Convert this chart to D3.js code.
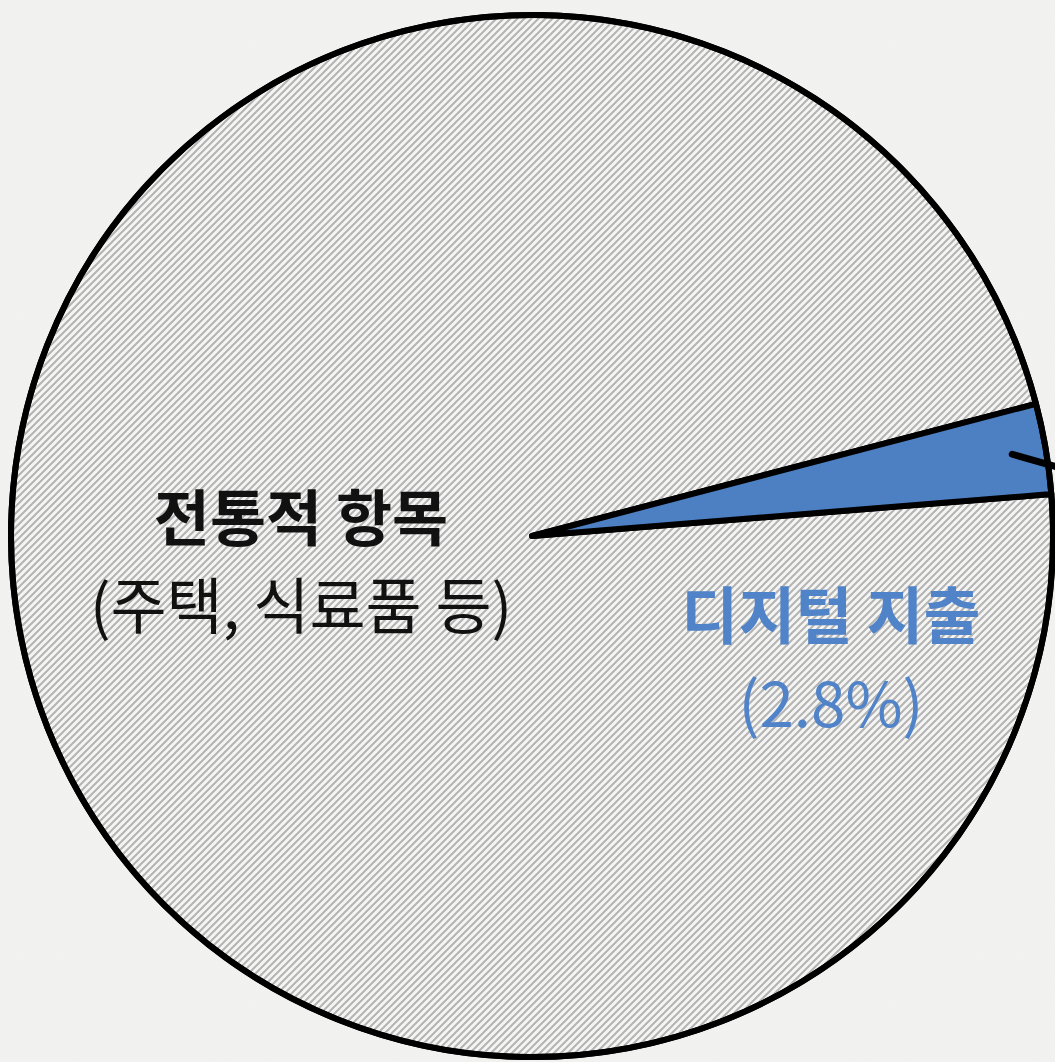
<!DOCTYPE html>
<html>
<head>
<meta charset="utf-8">
<script src="https://cdn.jsdelivr.net/npm/d3@7"></script>
<style>
  html, body { margin: 0; padding: 0; background: #f3f3f1; overflow: hidden; }
  svg { display: block; }
</style>
</head>
<body>
<div id="chart"></div>
<script>
// data
var categories = ["디지털 지출", "전통적 항목"];
var shares = [2.8, 97.2];
var titleLines = ["디지털 지출", "전통적 항목"];
var noteLines = ["(2.8%)", "(주택, 식료품 등)"];

var width = 1055, height = 1062;
var cx = 532, cy = 536, radius = 521;
var colors = { "디지털 지출": "#4d80c3", "전통적 항목": "url(#hatch)" };
var textColors = { "디지털 지출": "#5083c8", "전통적 항목": "#111" };
// label offsets from the pie centre / font sizes
var labelPos = { "디지털 지출": [299, 103], "전통적 항목": [-231, 5] };
var labelSize = { "디지털 지출": [62, 62], "전통적 항목": [61, 61] };

var svg = d3.select("#chart").append("svg")
  .attr("width", width).attr("height", height);

var defs = svg.append("defs");

// paper texture
var f = defs.append("filter").attr("id", "paper").attr("x", 0).attr("y", 0).attr("width", "100%").attr("height", "100%");
f.append("feTurbulence").attr("type", "fractalNoise").attr("baseFrequency", 0.8).attr("numOctaves", 2).attr("seed", 3);
f.append("feColorMatrix").attr("type", "matrix")
  .attr("values", "0 0 0 0 0.5  0 0 0 0 0.5  0 0 0 0 0.48  0 0 0 0.06 0");

var hatch = defs.append("pattern").attr("id", "hatch")
  .attr("patternUnits", "userSpaceOnUse").attr("width", 7).attr("height", 7);
hatch.append("rect").attr("width", 7).attr("height", 7).attr("fill", "#f5f5f4");
hatch.append("path").attr("d", "M-1,1 l2,-2 M0,7 l7,-7 M6,8 l2,-2")
  .attr("stroke", "#b4b4b4").attr("stroke-width", 2);

svg.append("rect").attr("width", width).attr("height", height).attr("fill", "#f3f3f1");
svg.append("rect").attr("width", width).attr("height", height).attr("filter", "url(#paper)");

var start = 75.3 * Math.PI / 180;
var pie = d3.pie().sort(null).value(function (d, i) { return shares[i]; })
  .startAngle(start).endAngle(start + 2 * Math.PI);
var arcs = pie(categories);

var arc = d3.arc().innerRadius(0).outerRadius(radius);

var g = svg.append("g").attr("transform", "translate(" + cx + "," + cy + ")");

g.selectAll("path.slice").data(arcs.slice().reverse()).enter().append("path")
  .attr("class", "slice")
  .attr("d", arc)
  .attr("fill", function (d) { return colors[d.data]; })
  .attr("stroke", "#000").attr("stroke-width", 6)
  .attr("stroke-linejoin", "round");

// outer ring
g.append("circle").attr("r", radius).attr("fill", "none")
  .attr("stroke", "#000").attr("stroke-width", 6);

// leader from the small slice
var small = arcs[0];
var mid = (small.startAngle + small.endAngle) / 2;
var p0 = [radius * 0.935 * Math.sin(mid), -radius * 0.935 * Math.cos(mid)];
g.append("path")
  .attr("d", d3.line()([p0, [p0[0] + 70, p0[1] + 20]]))
  .attr("stroke", "#000").attr("stroke-width", 7).attr("stroke-linecap", "round").attr("fill", "none");

// labels
var font = "'Noto Sans CJK KR', 'Noto Sans', sans-serif";
categories.forEach(function (c, i) {
  var pos = labelPos[c];
  var t = g.append("text")
    .attr("text-anchor", "middle")
    .attr("font-family", font)
    .attr("fill", textColors[c]);
  t.append("tspan").attr("x", pos[0]).attr("y", pos[1])
    .attr("font-size", labelSize[c][0]).attr("font-weight", 700).text(titleLines[i]);
  t.append("tspan").attr("x", pos[0]).attr("dy", 88)
    .attr("font-size", labelSize[c][1]).attr("font-weight", 400).text(noteLines[i]);
});
</script>
</body>
</html>
